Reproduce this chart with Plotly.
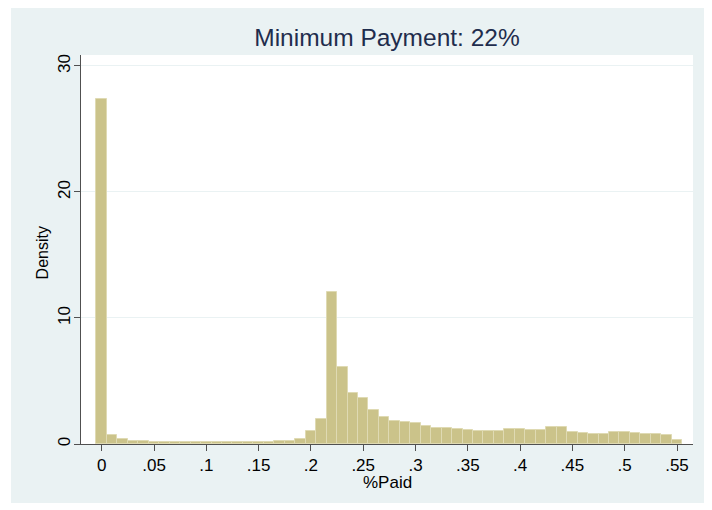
import plotly.graph_objects as go

# histogram of share paid, bins of width .01 centred on each hundredth
bin_centers = [0.00, 0.01, 0.02, 0.03, 0.04, 0.05, 0.06, 0.07, 0.08, 0.09,
               0.10, 0.11, 0.12, 0.13, 0.14, 0.15, 0.16, 0.17, 0.18, 0.19,
               0.20, 0.21, 0.22, 0.23, 0.24, 0.25, 0.26, 0.27, 0.28, 0.29,
               0.30, 0.31, 0.32, 0.33, 0.34, 0.35, 0.36, 0.37, 0.38, 0.39,
               0.40, 0.41, 0.42, 0.43, 0.44, 0.45, 0.46, 0.47, 0.48, 0.49,
               0.50, 0.51, 0.52, 0.53, 0.54, 0.55]
density = [27.4, 0.72, 0.37, 0.27, 0.22, 0.19, 0.17, 0.16, 0.15, 0.14,
           0.14, 0.14, 0.14, 0.15, 0.16, 0.17, 0.19, 0.21, 0.26, 0.42,
           1.04, 2.02, 12.05, 6.08, 4.02, 3.62, 2.68, 2.13, 1.82, 1.74,
           1.63, 1.40, 1.30, 1.29, 1.18, 1.13, 1.06, 1.00, 1.00, 1.19,
           1.20, 1.13, 1.13, 1.31, 1.31, 0.99, 0.88, 0.82, 0.82, 0.92,
           0.93, 0.84, 0.76, 0.76, 0.72, 0.28]
bin_width = 0.01

x_tickvals = [0, 0.05, 0.1, 0.15, 0.2, 0.25, 0.3, 0.35, 0.4, 0.45, 0.5, 0.55]
x_ticktext = ["0", ".05", ".1", ".15", ".2", ".25", ".3", ".35", ".4", ".45", ".5", ".55"]
y_tickvals = [0, 10, 20, 30]

title_text = "Minimum Payment: 22%"
x_title = "%Paid"
y_title = "Density"

FONT = "Liberation Sans, Arial, sans-serif"
BG = "#EAF2F3"
AXIS = "#505050"

fig = go.Figure()
fig.add_trace(go.Bar(
    x=bin_centers, y=density, width=bin_width,
    marker=dict(color="#CBC38A", line=dict(color="#DFDAB3", width=1)),
    hoverinfo="x+y", showlegend=False,
))

# stata-style graph region (light blue) with white plot region
fig.add_shape(type="rect", xref="paper", yref="paper", layer="below",
              x0=-0.1144, x1=1.0196, y0=-0.1517, y1=1.126,
              fillcolor=BG, line=dict(width=0))
fig.add_shape(type="rect", xref="paper", yref="paper", layer="below",
              x0=0, x1=1, y0=0, y1=1, fillcolor="white", line=dict(width=0))

fig.add_annotation(text=x_title, xref="paper", yref="paper", x=0.5, y=-0.098,
                   xanchor="center", yanchor="middle", showarrow=False,
                   font=dict(family=FONT, size=17, color="black"))
fig.add_annotation(text=y_title, xref="paper", yref="paper", x=-0.0637, y=0.49,
                   xanchor="center", yanchor="middle", textangle=-90, showarrow=False,
                   font=dict(family=FONT, size=16, color="black"))

# the page body adds an 8px offset, so the figure is 8px smaller and shifted
fig.update_layout(
    width=704, height=502,
    margin=dict(l=73, r=19, t=47, b=66),
    paper_bgcolor="white", plot_bgcolor="white",
    bargap=0,
    font=dict(family=FONT, size=17, color="black"),
    title=dict(text=title_text, x=0.5, xref="paper", y=1 - 29 / 502, yref="container",
               xanchor="center", yanchor="middle",
               font=dict(family=FONT, size=24.5, color="#1F2D4D")),
    xaxis=dict(range=[-0.0198, 0.5653], tickvals=x_tickvals, ticktext=x_ticktext,
               showgrid=False, zeroline=False, showline=True, linecolor=AXIS, linewidth=1,
               ticks="outside", ticklen=6, tickcolor=AXIS, tickwidth=1,
               tickfont=dict(family=FONT, size=17, color="black")),
    yaxis=dict(range=[0, 30.87], tickvals=y_tickvals, tickangle=-90,
               ticklabelstandoff=-3,
               showgrid=True, gridcolor=BG, gridwidth=1, zeroline=False,
               showline=True, linecolor=AXIS, linewidth=1,
               ticks="outside", ticklen=6, tickcolor=AXIS, tickwidth=1,
               tickfont=dict(family=FONT, size=17, color="black")),
)

fig.write_html("out.html")
